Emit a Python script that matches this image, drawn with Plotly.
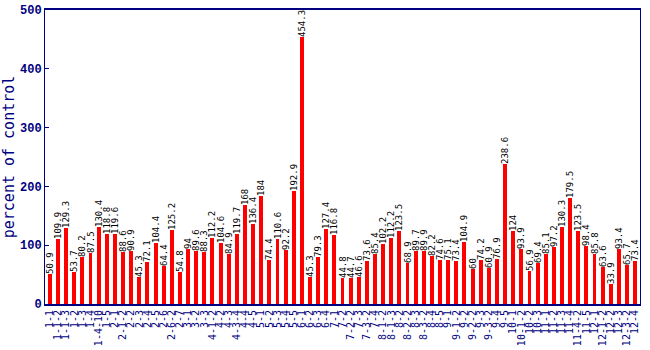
import plotly.graph_objects as go

labels = [
    "1-1", "1-1-2", "1-1-3", "1-2", "1-3", "1-4", "1-4-10", "1-5",
    "2-1", "2-1-2", "2-2", "2-3", "2-4", "2-5", "2-6", "2-6-2", "2-7",
    "3-1", "3-2", "3-3",
    "4-1-2", "4-2", "4-3", "4-3-4", "4-4", "4-5",
    "5-1", "5-2", "5-3", "5-4", "5-5",
    "6-1", "6-2", "6-3", "6-4",
    "7-1", "7-2", "7-2-2", "7-3", "7-3-2", "7-4",
    "8-1-2", "8-1-3", "8-2", "8-2-2", "8-3", "8-3-2", "8-4", "8-5",
    "9-1", "9-1-2", "9-2", "9-2-2", "9-3", "9-3-2", "9-4", "9-5",
    "10-1", "10-1-2", "10-2", "10-3",
    "11-1", "11-2", "11-3", "11-4", "11-4-2", "11-5",
    "12-1", "12-1-2", "12-2", "12-3", "12-3-2", "12-4",
]
values = [
    50.9, 109.9, 129.3, 53.7, 80.2, 87.5, 130.4, 118.8, 119.6, 88.6,
    90.9, 45.3, 72.1, 104.4, 64.4, 125.2, 54.8, 94, 89.6, 88.3,
    112.2, 104.6, 84.9, 119.7, 168, 136.4, 184, 74.4, 110.6, 92.2,
    192.9, 454.3, 45.3, 79.3, 127.4, 116.8, 44.8, 44.7, 46.6, 73.6,
    85.4, 102.2, 112.2, 123.5, 68.9, 89.7, 89.9, 82.2, 74.6, 75.1,
    73.4, 104.9, 60, 74.2, 60.9, 76.9, 238.6, 124, 93.9, 56.9,
    69.4, 85.1, 97.2, 130.3, 179.5, 123.5, 98.4, 85.8, 63.6, 33.9,
    93.4, 65.7, 73.4,
]
y_ticks = [0, 100, 200, 300, 400, 500]

navy = "#000080"
mono = "DejaVu Sans Mono"

fig = go.Figure(go.Bar(
    x=list(range(len(values))),
    y=values,
    marker=dict(color="#ff0000", line=dict(width=0)),
    width=0.48,
    text=[("%g" % v) for v in values],
    textposition="outside",
    textangle=-90,
    constraintext="none",
    cliponaxis=True,
    textfont=dict(family=mono, size=9, color="black"),
))

fig.update_layout(
    width=650, height=350,
    margin=dict(l=45, r=10, t=10, b=46),
    plot_bgcolor="white", paper_bgcolor="white",
    showlegend=False,
    bargap=0,
)
fig.update_xaxes(
    automargin=False,
    range=[-0.6, len(values) - 0.4],
    tickmode="array",
    tickvals=list(range(len(values))),
    ticktext=labels,
    tickangle=-90,
    tickfont=dict(family=mono, size=10, color=navy),
    showline=True, linecolor=navy, linewidth=2, mirror=True,
    showgrid=False, ticks="", zeroline=False,
)
fig.update_yaxes(
    automargin=False,
    range=[0, 500],
    tickmode="array",
    tickvals=y_ticks,
    tickfont=dict(family="Liberation Mono", size=12, color=navy, weight="bold"),
    showline=True, linecolor=navy, linewidth=1, mirror=True,
    ticks="inside", ticklen=4, tickcolor=navy,
    showgrid=False, zeroline=False,
    title=dict(text="percent of control", font=dict(family=mono, size=15, color=navy), standoff=6),
)

fig.write_html("out.html")
